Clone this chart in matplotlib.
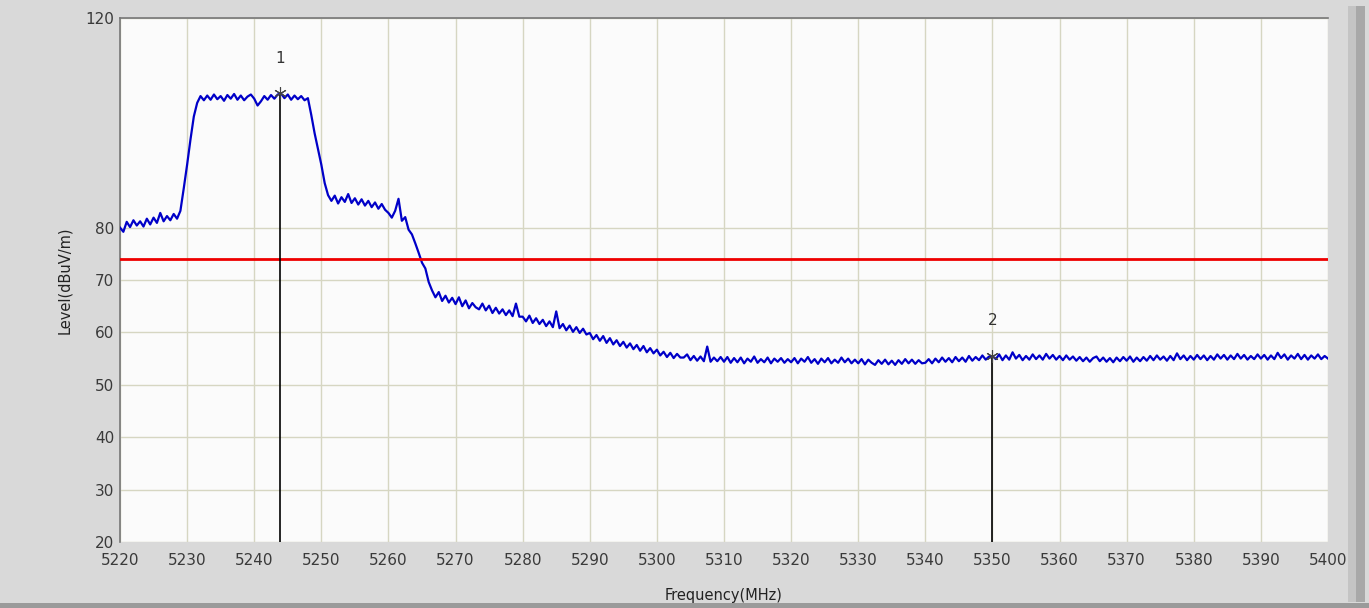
import matplotlib.pyplot as plt
from matplotlib.patches import Rectangle
import numpy as np

# Messdaten: Pegel in dBuV/m, Schrittweite 0.5 MHz ab 5220 MHz
f_start = 5220.0
f_step = 0.5
level = [
    # 5220
    80.0, 79.2, 81.1, 80.1, 81.4, 80.4, 81.2, 80.2, 81.7, 80.6, 81.9, 80.9, 82.8, 81.2, 82.2, 81.4, 82.6, 81.7, 83.2, 87.5,
    # 5230
    92.0, 96.8, 101.2, 103.8, 105.1, 104.3, 105.2, 104.4, 105.4, 104.5, 105.1, 104.2, 105.3, 104.6, 105.5, 104.4, 105.2, 104.3, 105.0, 105.4,
    # 5240
    104.6, 103.3, 104.1, 105.1, 104.4, 105.3, 104.6, 105.4, 105.6, 104.7, 105.4, 104.4, 105.2, 104.5, 105.1, 104.3, 104.7, 101.5, 98.0, 95.0,
    # 5250
    92.0, 88.5, 86.2, 85.1, 86.1, 84.6, 85.8, 84.9, 86.4, 84.7, 85.6, 84.4, 85.4, 84.2, 85.1, 83.9, 84.8, 83.6, 84.5, 83.4,
    # 5260
    82.8, 81.9, 83.2, 85.5, 81.3, 82.0, 79.6, 78.7, 77.0, 75.2, 73.3, 72.2, 69.6, 68.0, 66.7, 67.7, 66.0, 67.0, 65.7, 66.6,
    # 5270
    65.4, 66.7, 65.0, 66.1, 64.6, 65.6, 64.8, 64.4, 65.5, 64.2, 65.1, 63.7, 64.7, 63.6, 64.4, 63.3, 64.2, 63.1, 65.5, 63.0,
    # 5280
    63.0, 62.1, 63.2, 61.8, 62.7, 61.6, 62.4, 61.2, 62.1, 61.0, 64.0, 60.8, 61.6, 60.4, 61.3, 60.1, 61.0, 59.9, 60.7, 59.6,
    # 5290
    59.9, 58.7, 59.5, 58.4, 59.3, 58.0, 58.9, 57.7, 58.5, 57.4, 58.2, 57.1, 57.9, 56.8, 57.6, 56.5, 57.4, 56.2, 57.0, 56.0,
    # 5300
    56.7, 55.6, 56.3, 55.3, 56.1, 55.1, 55.9, 55.2, 55.2, 55.8, 54.7, 55.5, 54.6, 55.4, 54.5, 57.3, 54.4, 55.2, 54.5, 55.3,
    # 5310
    54.4, 55.3, 54.2, 55.1, 54.3, 55.2, 54.1, 55.0, 54.4, 55.4, 54.2, 54.9, 54.3, 55.2, 54.1, 55.0, 54.4, 55.1, 54.2, 54.9,
    # 5320
    54.3, 55.1, 54.1, 55.0, 54.4, 55.3, 54.2, 54.9, 54.0, 55.0, 54.3, 55.1, 54.1, 54.8, 54.2, 55.2, 54.3, 55.0, 54.1, 54.8,
    # 5330
    54.1, 54.9, 53.9, 54.8, 54.2, 53.8, 54.7, 54.0, 54.8, 53.9, 54.6, 53.8, 54.7, 54.0, 54.9, 54.1, 54.8, 54.0, 54.7, 54.1,
    # 5340
    54.2, 54.9, 54.1, 55.0, 54.3, 55.2, 54.4, 55.1, 54.3, 55.3, 54.5, 55.2, 54.4, 55.5, 54.6, 55.3, 54.7, 55.6, 54.8, 55.4,
    # 5350
    55.5, 54.9, 55.8, 54.7, 55.6, 54.8, 56.2, 55.0, 55.7, 54.7, 55.5, 54.8, 55.8, 54.9, 55.6, 54.8, 55.9, 55.0, 55.7, 54.8,
    # 5360
    55.5, 54.7, 55.6, 54.8, 55.4, 54.6, 55.3, 54.5, 55.2, 54.4, 55.1, 55.4, 54.5, 55.2, 54.4, 55.1, 54.3, 55.2, 54.5, 55.3,
    # 5370
    54.6, 55.4, 54.4, 55.2, 54.5, 55.3, 54.6, 55.5, 54.7, 55.6, 54.8, 55.4, 54.6, 55.5, 54.7, 56.0, 54.9, 55.6, 54.7, 55.5,
    # 5380
    54.8, 55.7, 54.9, 55.6, 54.7, 55.5, 54.8, 55.8, 55.0, 55.7, 54.8, 55.6, 54.9, 55.9, 55.0, 55.7, 54.8, 55.5, 54.9, 55.8,
    # 5390
    55.0, 55.7, 54.8, 55.6, 54.9, 56.1, 55.1, 55.8, 54.8, 55.6, 55.0, 55.9, 54.9, 55.7, 54.8, 55.6, 55.0, 55.8, 54.9, 55.5,
    # 5400
    55.0,
]
freq = f_start + f_step * np.arange(len(level))

limit = 74.0
marker_freq = [5243.8, 5350.0]
marker_level = [105.6, 55.5]
marker_names = ["1", "2"]

x_ticks = list(range(5220, 5401, 10))
y_ticks = [20, 30, 40, 50, 60, 70, 80, 120]

fig = plt.figure(figsize=(13.69, 6.08), dpi=100)
fig.patch.set_facecolor('#d9d9d9')
# Rahmen / Schatten rechts
fig.patches.append(Rectangle((1348/1369, 0.01), 8/1369, 0.98, transform=fig.transFigure,
                             facecolor='#c4c4c4', edgecolor='none', zorder=0))
fig.patches.append(Rectangle((1356/1369, 0.01), 9/1369, 0.98, transform=fig.transFigure,
                             facecolor='#a8a8a8', edgecolor='none', zorder=0))
fig.patches.append(Rectangle((0, 0), 1, 0.008, transform=fig.transFigure,
                             facecolor='#9a9a9a', edgecolor='none', zorder=0))

ax = fig.add_axes([120/1369, 66/608, 1208/1369, 524/608])
ax.set_facecolor('#fbfbfb')

ax.plot(freq, level, color='#0000c8', lw=1.6, zorder=3)
ax.axhline(limit, color='#ee0000', lw=2, zorder=4)

# Marker
for mf, ml, mn in zip(marker_freq, marker_level, marker_names):
    ax.plot([mf, mf], [20, ml], color='black', lw=1.2, zorder=5)
    ax.plot(mf, ml, marker=(6, 2, 0), ms=9, color='#444444', mew=0.8, zorder=6)
    ax.text(mf, ml + 5.3, mn, ha='center', va='bottom', fontsize=11, color='#333333')

ax.set_xlim(5220, 5400)
ax.set_ylim(20, 120)
ax.set_xticks(x_ticks)
ax.set_yticks(y_ticks)
ax.grid(True, color='#d6d6c2', lw=1, zorder=0)
ax.tick_params(length=0, labelsize=11, labelcolor='#3a3a3a')
ax.tick_params(axis='x', pad=8)
ax.tick_params(axis='y', pad=4)

for s in ['right', 'bottom']:
    ax.spines[s].set_visible(False)
for s in ['left', 'top']:
    ax.spines[s].set_color('#777777')
    ax.spines[s].set_linewidth(1.2)

ax.set_xlabel('Frequency(MHz)', fontsize=10.5, color='#222222', labelpad=14)
ax.set_ylabel('Level(dBuV/m)', fontsize=10.5, color='#222222', labelpad=10)

fig.savefig('out.png', dpi=100, facecolor=fig.get_facecolor())
